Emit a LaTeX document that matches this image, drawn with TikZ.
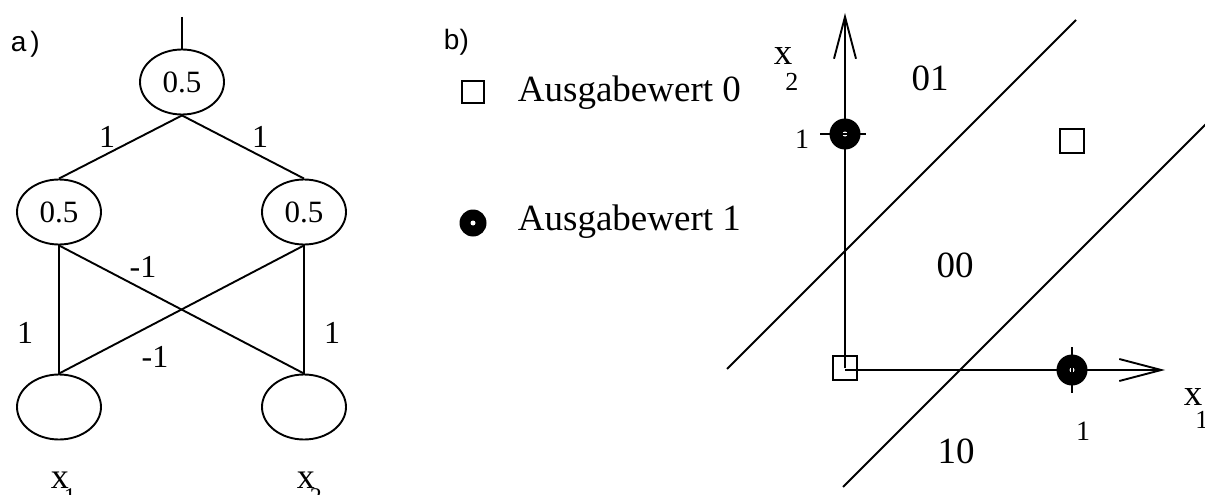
\documentclass[tikz,border=0pt]{standalone}
\usepackage{fontspec}
\setmainfont{Liberation Serif}
\newfontfamily\partfont{Liberation Sans}
\usepackage{tikz}
\usetikzlibrary{positioning,shapes.geometric,arrows.meta,calc}
\newcommand{\fsz}[1]{\fontsize{#1}{#1}\selectfont}
\tikzset{
  neuron/.style={draw, ellipse, minimum width=84pt, minimum height=65pt, inner sep=0pt, font=\fsz{31}},
  wlabel/.style={anchor=base, inner sep=0pt, font=\fsz{32}},
  region/.style={anchor=base, inner sep=0pt, font=\fsz{37}},
  ticklabel/.style={anchor=base, inner sep=0pt, font=\fsz{28}},
  outzero/.style={draw, rectangle, minimum size=24pt, inner sep=0pt},
  outone/.style={circle, fill=black, minimum size=31pt, inner sep=0pt,
    path picture={\fill[white] (path picture bounding box.center) circle (2.5pt);}},
  barb/.style={-{Straight Barb[length=42pt,width=22pt]}}
}

\begin{document}
\begin{tikzpicture}[x=1pt,y=-1pt,line width=1.9pt]
\useasboundingbox (0,0) rectangle (1205,495);

% a) network
\node[anchor=base west, inner sep=0pt, font=\partfont\fsz{28}] (parta) at (10,52) {a\kern4pt)};
\node[neuron] (top) at (182,82) {0.5};
\node[neuron] (hl) at (59,212) {0.5};
\node[neuron] (hr) at (304,212) {0.5};
\node[neuron] (inl) at (59,407) {};
\node[neuron] (inr) at (304,407) {};
\coordinate (out) at (182,17);

\draw (out) -- (top.north);
\draw (top.south) -- (hl.north);
\draw (top.south) -- (hr.north);
\draw (hl.south) -- (inl.north);
\draw (hr.south) -- (inr.north);
\draw (hl.south) -- (inr.north);
\draw (hr.south) -- (inl.north);

% weights
\node[wlabel] (w1) at (107,147) {1};
\node[wlabel] (w2) at (260,147) {1};
\node[wlabel] (w3) at (143,277) {-1};
\node[wlabel] (w4) at (25,343) {1};
\node[wlabel] (w5) at (155,367) {-1};
\node[wlabel] (w6) at (332,343) {1};

% inputs
\node[anchor=base west, inner sep=0pt, font=\fsz{36}] (lx1) at (50,488) {x\kern-5pt\raisebox{-16pt}{\fsz{24}1}};
\node[anchor=base west, inner sep=0pt, font=\fsz{36}] (lx2) at (296,488) {x\kern-5pt\raisebox{-16pt}{\fsz{24}2}};

% b) legend
\node[anchor=base west, inner sep=0pt, font=\partfont\fsz{28}] (partb) at (443,50) {b)};
\node[outzero, minimum size=22pt] (legzero) at (473,92) {};
\node[anchor=base west, inner sep=0pt, font=\fsz{37}] (txtzero) at (517,102) {Ausgabewert 0};
\node[outone, minimum size=27pt] (legone) at (473,223) {};
\node[anchor=base west, inner sep=0pt, font=\fsz{37}] (txtone) at (517,230) {Ausgabewert 1};

% b) input space
\coordinate (O) at (845,368);
\coordinate (ytip) at (845,13);
\coordinate (xtip) at (1165,370);
\coordinate (xbase) at (845,370);
\draw[barb] (O) -- (ytip);
\draw[barb] (xbase) -- (xtip);

% separating lines
\coordinate (la) at (727,369);
\coordinate (lb) at (1076,20);
\coordinate (lc) at (843,487);
\coordinate (ld) at (1207,123);
\draw (la) -- (lb);
\draw (lc) -- (ld);

% patterns
\node[outzero] (p00) at (845,368) {};
\node[outzero] (p11) at (1072,141) {};
\node[outone] (p01) at (845,134) {};
\node[outone] (p10) at (1072,370) {};
\coordinate (t1a) at (820,134);
\coordinate (t1b) at (866,134);
\coordinate (t2a) at (1072,347);
\coordinate (t2b) at (1072,393);
\draw (t1a) -- (t1b);
\draw (t2a) -- (t2b);

% labels
\node[ticklabel] (one2) at (802,148) {1};
\node[ticklabel] (one1) at (1083,440) {1};
\node[region] (r01) at (930,90) {01};
\node[region] (r00) at (955,277) {00};
\node[region] (r10) at (956,463) {10};
\node[anchor=base west, inner sep=0pt, font=\fsz{37}] (ax2) at (773,65) {x\kern-7pt\raisebox{-25pt}{\fsz{26}2}};
\node[anchor=base west, inner sep=0pt, font=\fsz{37}] (ax1) at (1183,405) {x\kern-7pt\raisebox{-23pt}{\fsz{26}1}};
\end{tikzpicture}
\end{document}
